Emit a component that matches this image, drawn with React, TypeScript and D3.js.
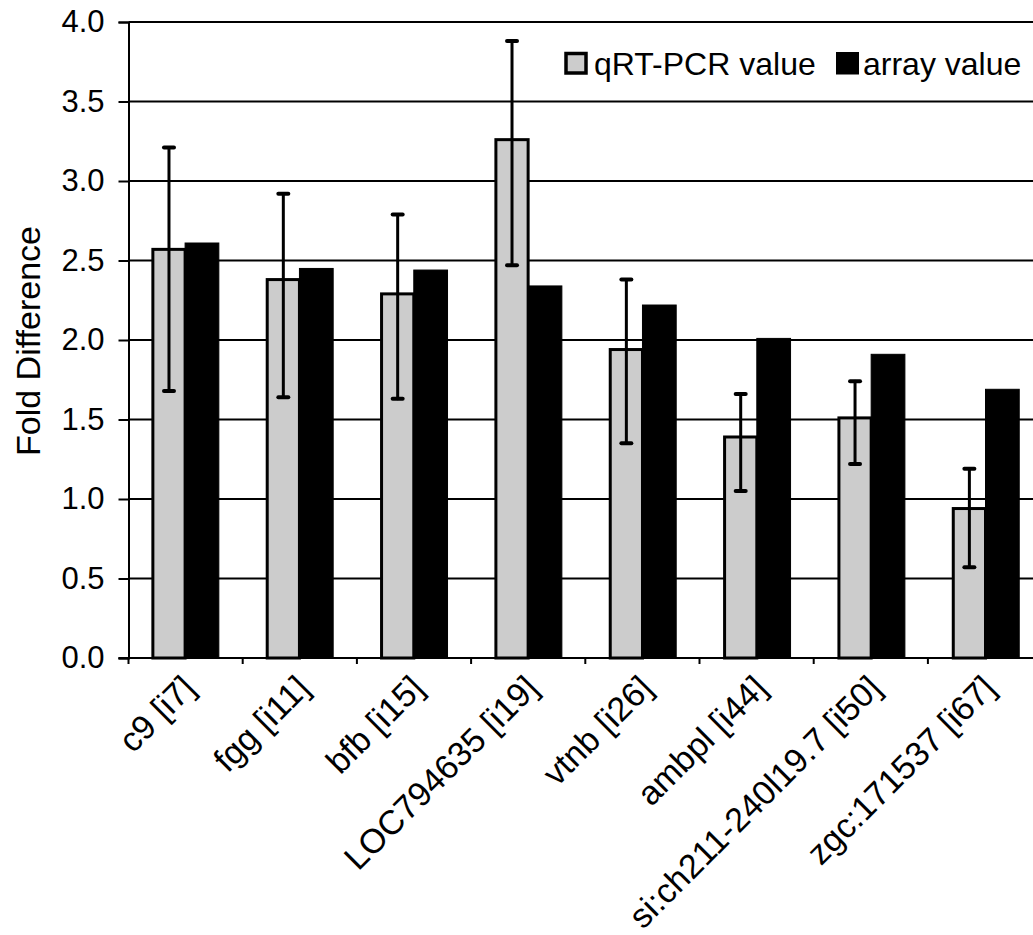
import React, { useEffect, useRef } from "react";
import * as d3 from "d3";

// categorias (gene + id)
const genes = ["c9", "fgg", "bfb", "LOC794635", "vtnb", "ambpl", "si:ch211-240l19.7", "zgc:171537"];
const probeIds = ["[i7]", "[i11]", "[i15]", "[i19]", "[i26]", "[i44]", "[i50]", "[i67]"];

// valores
const qpcrValues = [2.57, 2.38, 2.29, 3.26, 1.94, 1.39, 1.51, 0.94];
const qpcrErrHigh = [3.21, 2.92, 2.79, 3.88, 2.38, 1.66, 1.74, 1.19];
const qpcrErrLow = [1.68, 1.64, 1.63, 2.47, 1.35, 1.05, 1.22, 0.57];
const arrayValues = [2.61, 2.45, 2.44, 2.34, 2.22, 2.01, 1.91, 1.69];

const series = ["qRT-PCR value", "array value"];
const yTicks = [0, 0.5, 1.0, 1.5, 2.0, 2.5, 3.0, 3.5, 4.0];

const W = 1033;
const H = 935;

const App = () => {
  const ref = useRef<SVGSVGElement>(null);

  useEffect(() => {
    const svg = d3.select(ref.current);
    svg.selectAll("*").remove();

    const font = "'Liberation Sans', Arial, sans-serif";
    const left = 128.5;
    const step = 114.2;
    const y = d3.scaleLinear().domain([0, 4]).range([658, 22]);
    const x0 = d3
      .scaleBand<string>()
      .domain(genes)
      .range([left, left + step * genes.length])
      .paddingInner(0.41)
      .paddingOuter(0.2);
    const x1 = d3.scaleBand<string>().domain(series).range([0, x0.bandwidth()]);

    // grade horizontal
    svg
      .append("g")
      .selectAll("line")
      .data(yTicks.slice(1))
      .join("line")
      .attr("x1", left)
      .attr("x2", W)
      .attr("y1", (d) => y(d))
      .attr("y2", (d) => y(d))
      .attr("stroke", "#000")
      .attr("stroke-width", 2);

    // barras
    const groups = svg
      .append("g")
      .selectAll("g")
      .data(genes)
      .join("g")
      .attr("transform", (d) => `translate(${x0(d)},0)`);

    groups
      .append("rect")
      .attr("x", x1(series[0])! + 1.5)
      .attr("width", x1.bandwidth() - 1.5)
      .attr("y", (d, i) => y(qpcrValues[i]))
      .attr("height", (d, i) => y(0) - y(qpcrValues[i]))
      .attr("fill", "#cccccc")
      .attr("stroke", "#000")
      .attr("stroke-width", 3);

    groups
      .append("rect")
      .attr("x", x1(series[1])!)
      .attr("width", x1.bandwidth())
      .attr("y", (d, i) => y(arrayValues[i]))
      .attr("height", (d, i) => y(0) - y(arrayValues[i]))
      .attr("fill", "#000")
      .attr("stroke", "#000")
      .attr("stroke-width", 1);

    // barras de erro
    const cx = x1(series[0])! + x1.bandwidth() / 2 + 0.75;
    const err = groups.append("g").attr("stroke", "#000").attr("stroke-width", 3).attr("stroke-linecap", "round");
    err
      .append("line")
      .attr("x1", cx)
      .attr("x2", cx)
      .attr("y1", (d, i) => y(qpcrErrHigh[i]))
      .attr("y2", (d, i) => y(qpcrErrLow[i]));
    err
      .append("line")
      .attr("x1", cx - 5)
      .attr("x2", cx + 5)
      .attr("y1", (d, i) => y(qpcrErrHigh[i]))
      .attr("y2", (d, i) => y(qpcrErrHigh[i]))
      .attr("stroke-width", 4);
    err
      .append("line")
      .attr("x1", cx - 5)
      .attr("x2", cx + 5)
      .attr("y1", (d, i) => y(qpcrErrLow[i]))
      .attr("y2", (d, i) => y(qpcrErrLow[i]))
      .attr("stroke-width", 4);

    // eixo y
    const yAxis = d3
      .axisLeft(y)
      .tickValues(yTicks)
      .tickSize(10)
      .tickPadding(14)
      .tickFormat(d3.format(".1f"));
    const gy = svg.append("g").attr("transform", `translate(${left},0)`).call(yAxis);
    gy.select(".domain").attr("stroke-width", 2);
    gy.selectAll(".tick line").attr("stroke-width", 2);
    gy.selectAll("text").attr("font-family", font).attr("font-size", 31).attr("fill", "#000");

    // eixo x
    svg
      .append("line")
      .attr("x1", left - 10)
      .attr("x2", W)
      .attr("y1", y(0))
      .attr("y2", y(0))
      .attr("stroke", "#000")
      .attr("stroke-width", 2);
    svg
      .append("g")
      .selectAll("line")
      .data(d3.range(genes.length + 1))
      .join("line")
      .attr("x1", (i) => left + i * step)
      .attr("x2", (i) => left + i * step)
      .attr("y1", y(0))
      .attr("y2", y(0) + 6)
      .attr("stroke", "#000")
      .attr("stroke-width", 2);

    svg
      .append("g")
      .selectAll("text")
      .data(genes)
      .join("text")
      .attr("transform", (d) => `translate(${x0(d)! + x0.bandwidth() / 2 + 12},690) rotate(-45)`)
      .attr("text-anchor", "end")
      .attr("font-family", font)
      .attr("font-size", 34)
      .attr("fill", "#000")
      .text((d, i) => d + " " + probeIds[i]);

    // titulo do eixo y
    svg
      .append("text")
      .attr("transform", "translate(40,341) rotate(-90)")
      .attr("text-anchor", "middle")
      .attr("font-family", font)
      .attr("font-size", 34)
      .attr("fill", "#000")
      .text("Fold Difference");

    // legenda
    const leg = svg.append("g").attr("font-family", font).attr("font-size", 32);
    leg
      .append("rect")
      .attr("x", 566)
      .attr("y", 53.5)
      .attr("width", 20)
      .attr("height", 19.5)
      .attr("fill", "#cccccc")
      .attr("stroke", "#000")
      .attr("stroke-width", 3.5);
    leg.append("text").attr("x", 594).attr("y", 75).text(series[0]);
    leg
      .append("rect")
      .attr("x", 836)
      .attr("y", 52)
      .attr("width", 23)
      .attr("height", 22.5)
      .attr("fill", "#000");
    leg.append("text").attr("x", 863).attr("y", 75).text(series[1]);

    return () => {
      d3.select(ref.current).selectAll("*").remove();
    };
  }, []);

  return (
    <svg
      ref={ref}
      width={W}
      height={H}
      style={{ position: "absolute", left: 0, top: 0, background: "#fff" }}
    ></svg>
  );
};

export default App;
